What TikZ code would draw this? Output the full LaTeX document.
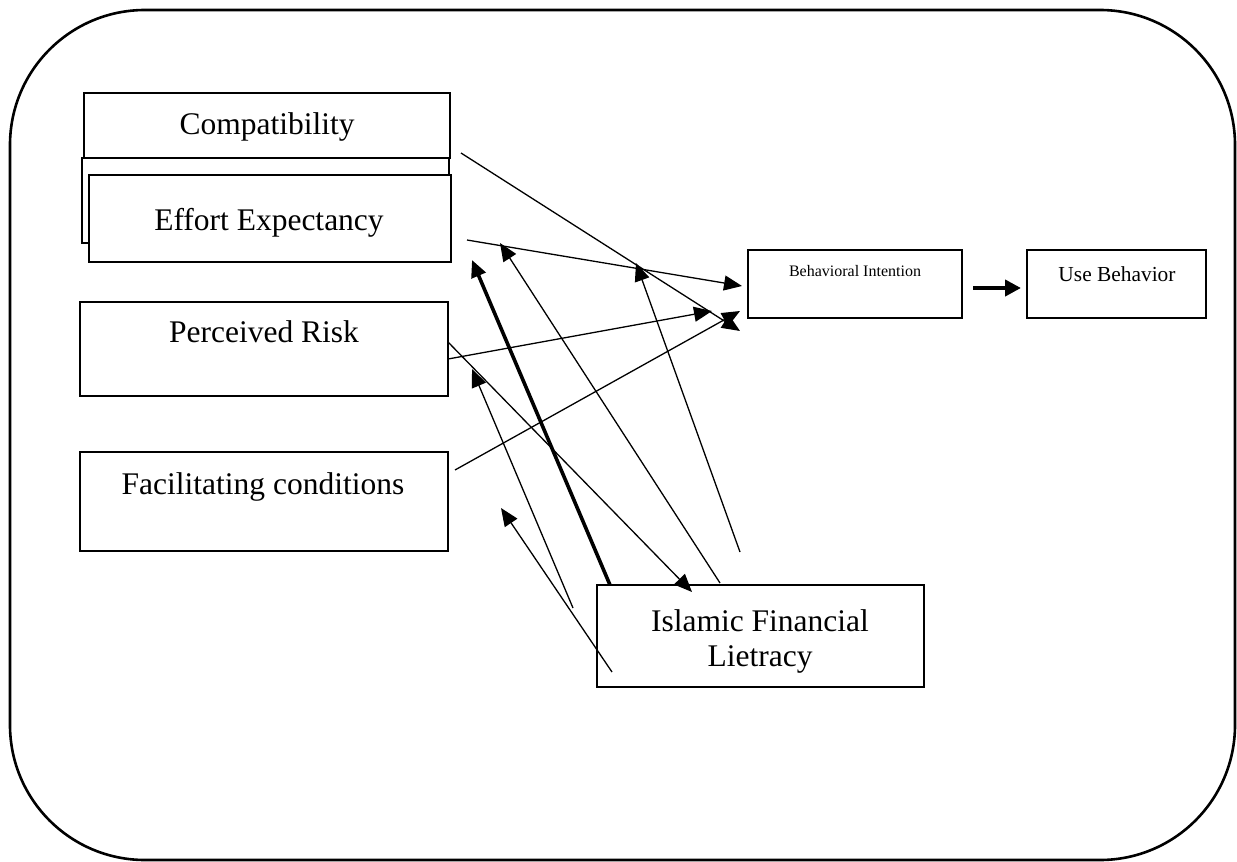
\documentclass[tikz,border=0pt]{standalone}
\usepackage{fontspec}
\setmainfont{Liberation Serif}
\usetikzlibrary{arrows.meta}
\begin{document}
\begin{tikzpicture}[x=1pt,y=-1pt,
  box/.style={draw, line width=1.4pt, inner sep=0pt, outer sep=0pt, fill=white},
  tbox/.style={box, line width=2.8pt},
  lbl/.style={anchor=base, inner sep=0pt, font=\fontsize{31.5}{36}\selectfont},
  conn/.style={line width=1.3pt, -{Triangle[length=18pt,width=15pt]}},
  thickconn/.style={line width=3.6pt, -{Triangle[length=17pt,width=15pt]}}]
\useasboundingbox (0,0) rectangle (1237,862);
\draw[line width=2.6pt, rounded corners=135pt] (10,10) rectangle (1235,860);

% boxes
\node[box, minimum width=366pt, minimum height=65pt] (comp) at (267,125.5) {};
\node[box, minimum width=367pt, minimum height=85pt] (ghost) at (265.5,200.5) {};
\node[tbox, minimum width=362pt, minimum height=87pt] (eff) at (270,218.5) {};
\node[tbox, minimum width=368pt, minimum height=94pt] (pr) at (264,349) {};
\node[tbox, minimum width=368pt, minimum height=99pt] (fc) at (264,501.5) {};
\node[tbox, minimum width=327pt, minimum height=102pt] (ifl) at (760.5,636) {};
\node[box, minimum width=214pt, minimum height=68pt] (bi) at (855,284) {};
\node[box, minimum width=179pt, minimum height=68pt] (ub) at (1116.5,284) {};

% labels
\node[lbl] (tcomp) at (267,134) {Compatibility};
\node[lbl] (teff) at (269,230) {Effort Expectancy};
\node[lbl] (tpr) at (264,342) {Perceived Risk};
\node[lbl] (tfc) at (263,494) {Facilitating conditions};
\node[lbl] (tif1) at (760,631) {Islamic Financial};
\node[lbl] (tif2) at (760,666) {Lietracy};
\node[lbl, font=\fontsize{16}{19}\selectfont] (tbi) at (855,276) {Behavioral Intention};
\node[lbl, font=\fontsize{21.4}{25}\selectfont] (tub) at (1117,281) {Use Behavior};

% connector end points
\coordinate (c1s) at (461,153);  \coordinate (bow1) at (740,331);
\coordinate (e1s) at (467,240);  \coordinate (e1t) at (742,286);
\coordinate (p1s) at (448,359);  \coordinate (p1t) at (712,311);
\coordinate (f1s) at (455,470);  \coordinate (bow2) at (740,311);
\coordinate (p2s) at (448,342);  \coordinate (p2t) at (692,592);
\coordinate (i1s) at (610,585);  \coordinate (i1t) at (472,260);
\coordinate (i2s) at (720,583);  \coordinate (i2t) at (500,243);
\coordinate (i3s) at (740,552);  \coordinate (i3t) at (636,263);
\coordinate (i4s) at (573,608);  \coordinate (i4t) at (472,369);
\coordinate (i5s) at (612,672);  \coordinate (i5t) at (501,508);
\coordinate (b1s) at (973,288);  \coordinate (b1t) at (1021,288);

% connectors
\draw[conn] (c1s) -- (bow1);
\draw[conn] (e1s) -- (e1t);
\draw[conn] (p1s) -- (p1t);
\draw[conn] (f1s) -- (bow2);
\draw[conn] (p2s) -- (p2t);
\draw[thickconn] (i1s) -- (i1t);
\draw[conn] (i2s) -- (i2t);
\draw[conn] (i3s) -- (i3t);
\draw[conn] (i4s) -- (i4t);
\draw[conn] (i5s) -- (i5t);
\draw[line width=4pt, -{Triangle[length=16pt,width=16pt]}] (b1s) -- (b1t);
\end{tikzpicture}
\end{document}
